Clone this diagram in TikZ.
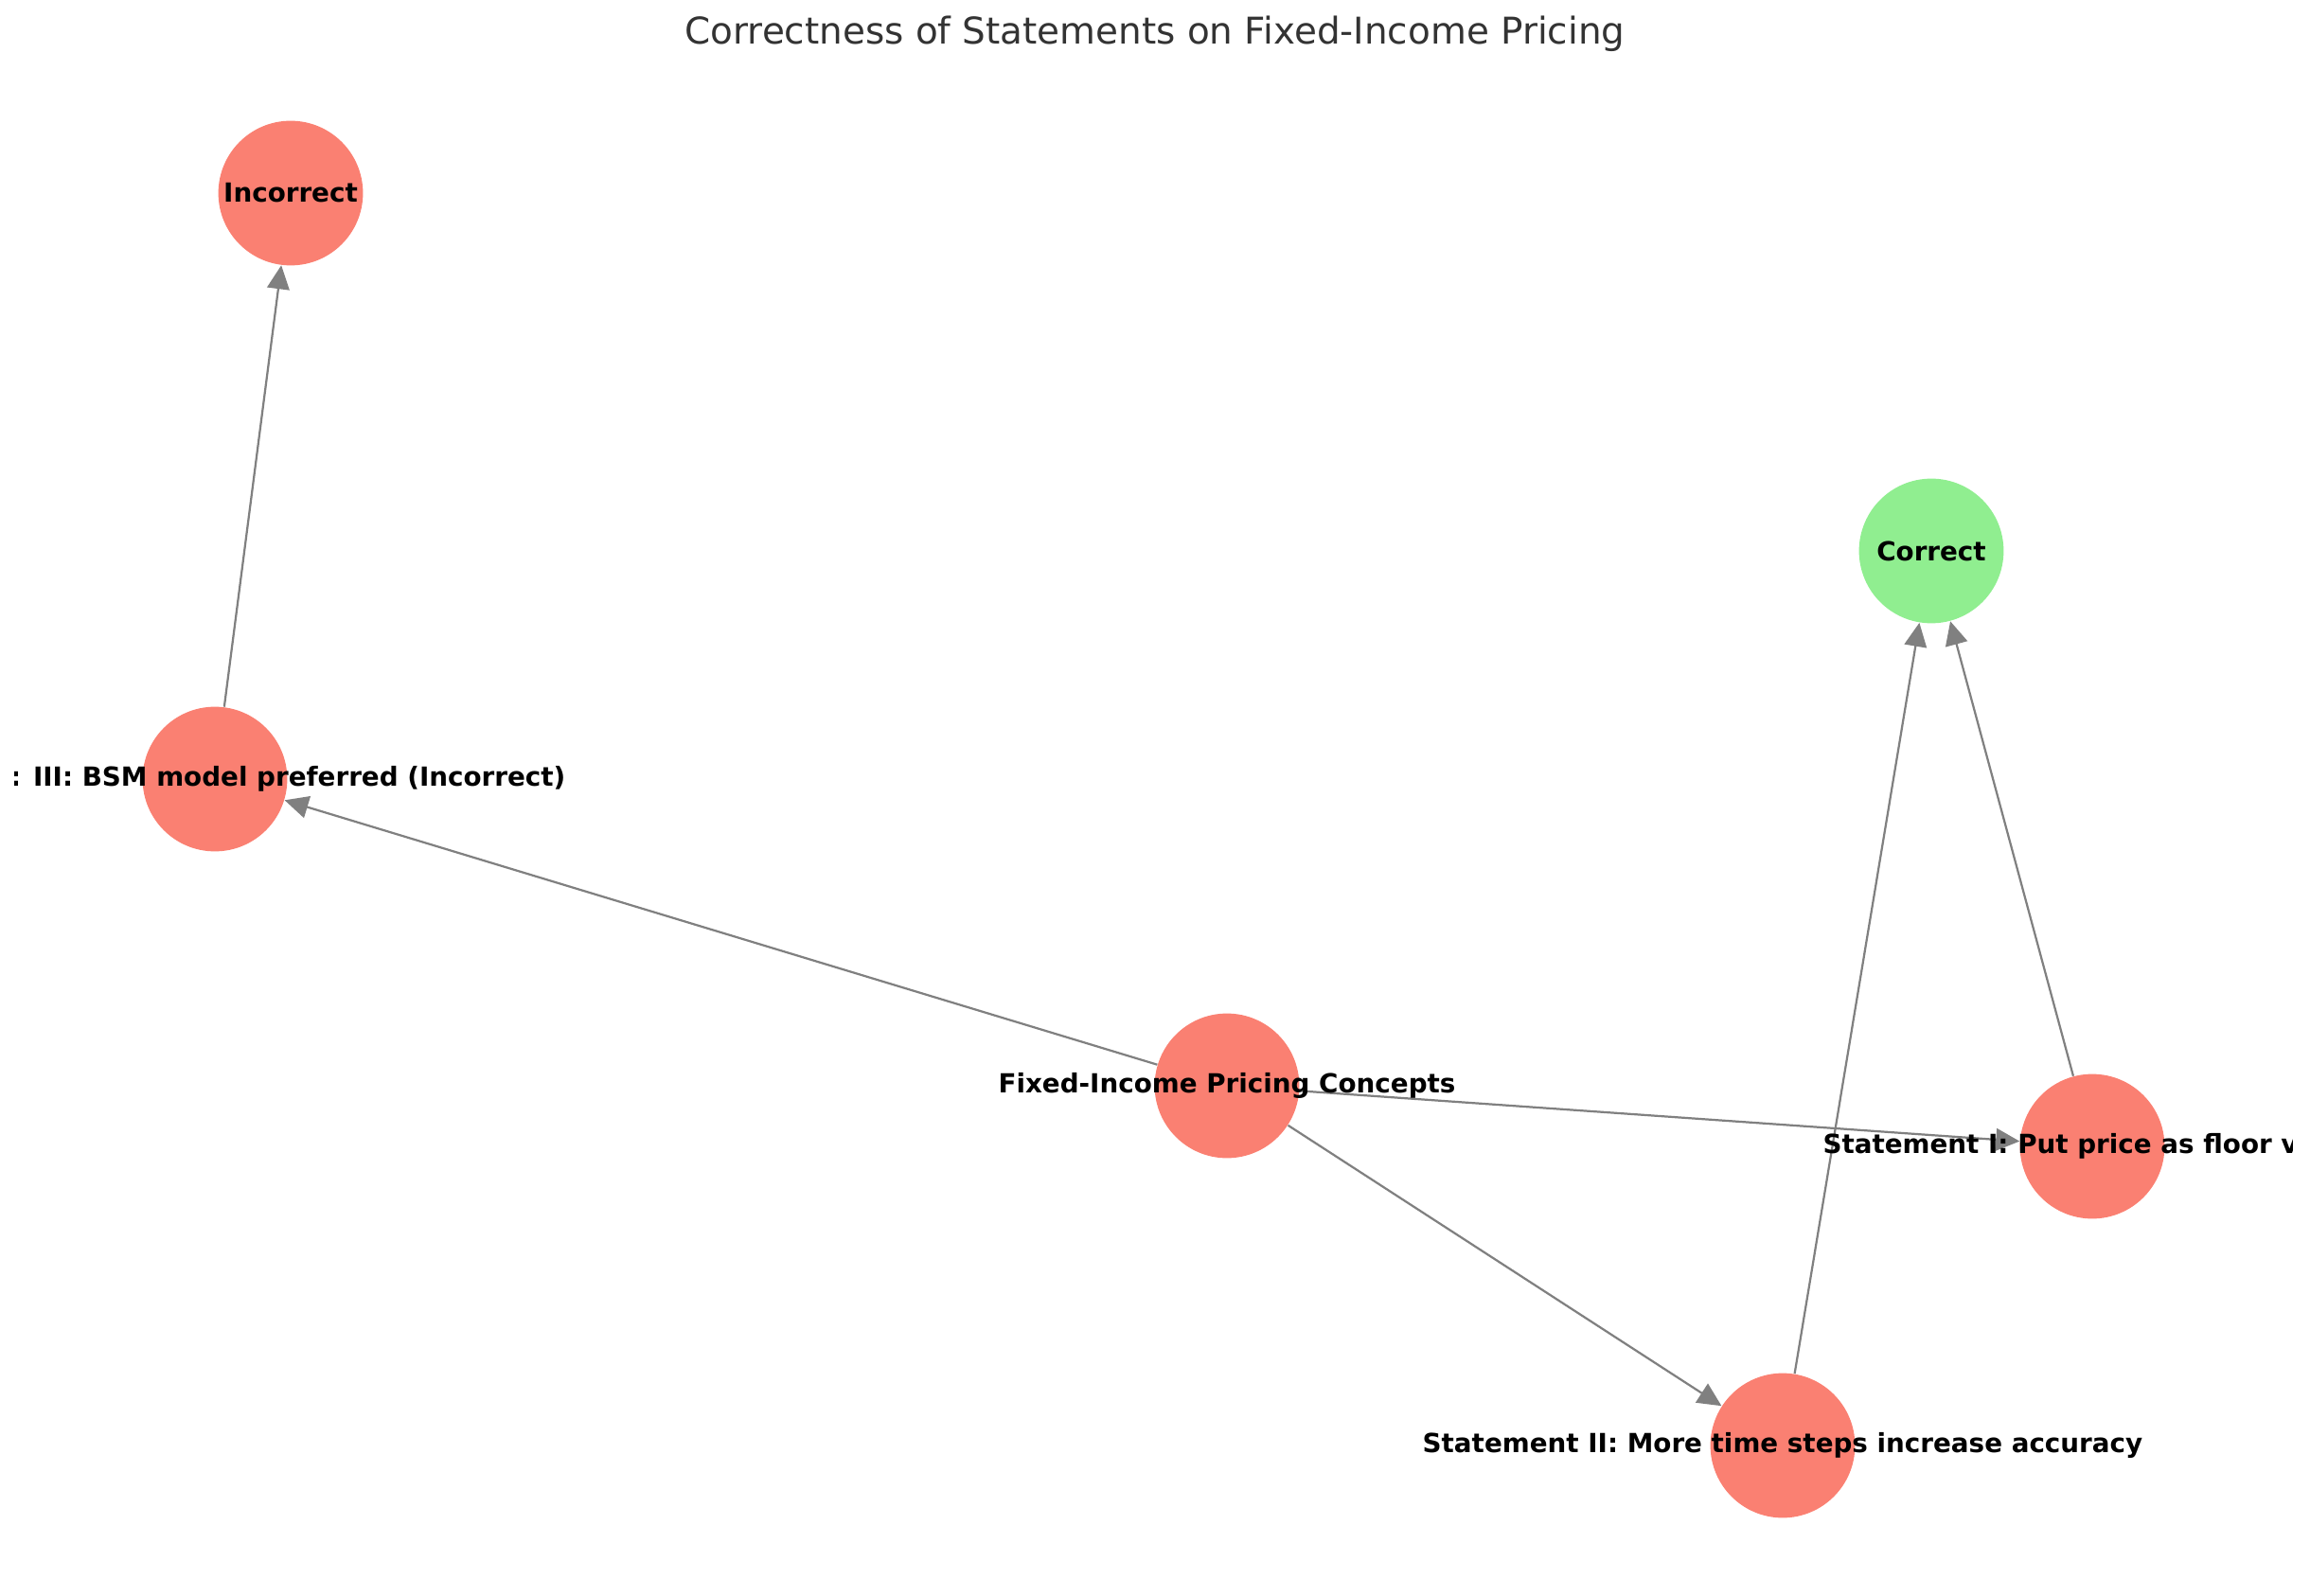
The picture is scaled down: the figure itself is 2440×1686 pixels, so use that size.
\documentclass[tikz,border=0pt]{standalone}
\usepackage{fontspec}
\setmainfont{DejaVu Sans}
\usetikzlibrary{arrows.meta}
\definecolor{salmon}{HTML}{FA8072}
\definecolor{lgreen}{HTML}{90EE90}
\definecolor{edgegray}{HTML}{808080}
\definecolor{titlegray}{HTML}{333333}
\begin{document}
\begin{tikzpicture}[x=0.36pt,y=-0.36pt,
  gnode/.style={circle, fill=salmon, draw=none, minimum size=55pt, inner sep=0pt},
  lbl/.style={font=\bfseries\fontsize{10}{12}\selectfont, text=black, inner sep=0pt},
  edgeline/.style={draw=edgegray, line width=0.8pt, -{Triangle[length=9pt,width=8.5pt]}}]
\useasboundingbox (0,0) rectangle (2440,1686);
\clip (0,0) rectangle (2440,1686);
% title
\node[font=\fontsize{14}{17}\selectfont, text=titlegray] (title) at (1220,36) {Correctness of Statements on Fixed-Income Pricing};
% nodes
\node[gnode] (inc) at (307,204) {};
\node[gnode, fill=lgreen] (cor) at (2040,582) {};
\node[gnode] (s3) at (227,823) {};
\node[gnode] (fix) at (1296,1147) {};
\node[gnode] (s1) at (2210,1211) {};
\node[gnode] (s2) at (1883,1527) {};
% edges
\draw[edgeline] (fix) -- (s3);
\draw[edgeline] (fix) -- (s1);
\draw[edgeline] (fix) -- (s2);
\draw[edgeline] (s3) -- (inc);
\draw[edgeline] (s1) -- (cor);
\draw[edgeline] (s2) -- (cor);
% labels
\begin{scope}
\clip (15,0) rectangle (2421,1686);
\node[lbl] (linc) at (inc.center) {Incorrect};
\node[lbl] (lcor) at (cor.center) {Correct};
\node[lbl, anchor=east] (ls3) at ([xshift=371*0.36pt]s3.center) {: III: BSM model preferred (Incorrect)};
\node[lbl] (lfix) at (fix.center) {Fixed-Income Pricing Concepts};
\node[lbl] (ls1) at (s1.center) {Statement I: Put price as floor value};
\node[lbl] (ls2) at (s2.center) {Statement II: More time steps increase accuracy};
\end{scope}
\end{tikzpicture}
\end{document}
